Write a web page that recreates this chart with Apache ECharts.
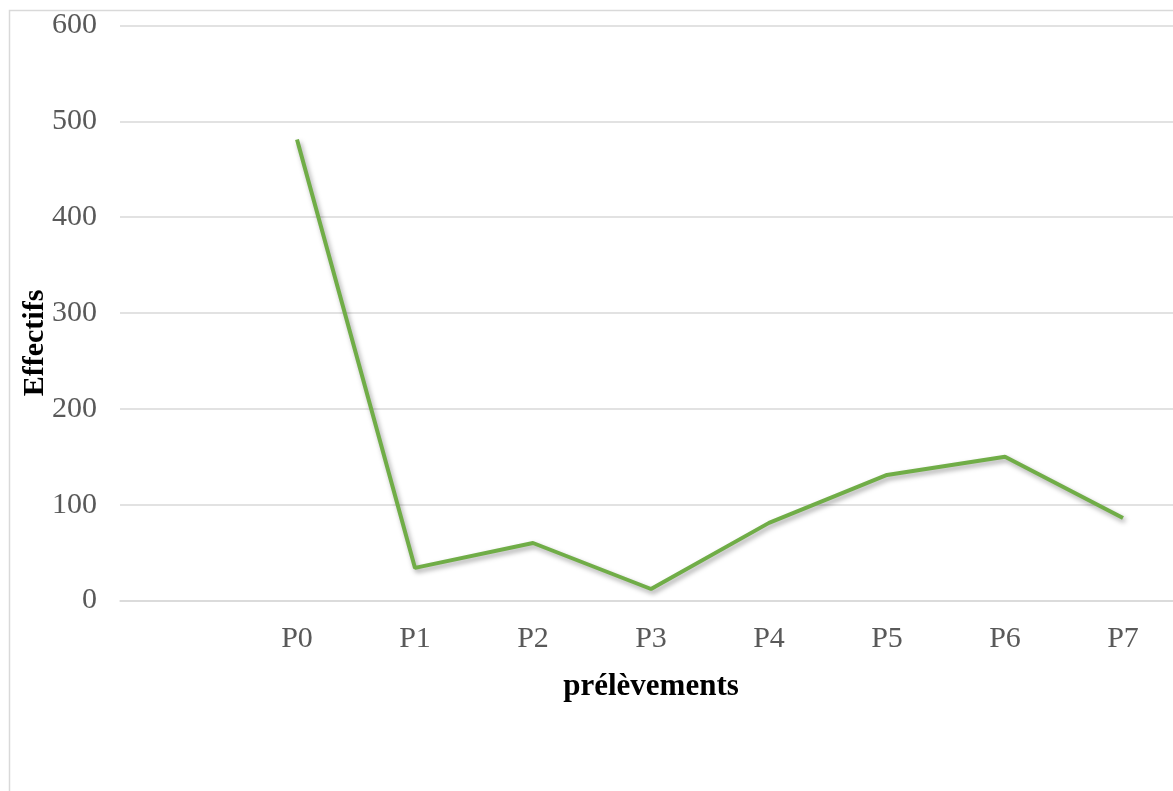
<!DOCTYPE html>
<html>
<head>
<meta charset="utf-8">
<script src="https://cdn.jsdelivr.net/npm/echarts@6/dist/echarts.min.js"></script>
<style>
html,body{margin:0;padding:0;background:#fff;overflow:hidden;}
#chart{width:1173px;height:791px;}
</style>
</head>
<body>
<div id="chart"></div>
<script>
var categories = ['', 'P0', 'P1', 'P2', 'P3', 'P4', 'P5', 'P6', 'P7'];
var effectifs = [null, 481, 34, 60, 12, 81, 131, 150, 86];
var yTicks = { min: 0, max: 600, interval: 100 };
var xName = 'prélèvements';
var yName = 'Effectifs';

var chart = echarts.init(document.getElementById('chart'));
chart.setOption({
  animation: false,
  backgroundColor: '#fff',
  graphic: [{
    type: 'rect', silent: true, z: -1,
    shape: { x: 9.5, y: 10.5, width: 1300, height: 900 },
    style: { fill: 'none', stroke: '#d9d9d9', lineWidth: 1.5 }
  }],
  grid: { left: 120, width: 1062, top: 25.5, bottom: 190.5, containLabel: false, outerBoundsMode: 'none' },
  xAxis: {
    type: 'category',
    data: categories,
    boundaryGap: true,
    name: xName,
    nameLocation: 'middle',
    nameGap: 71,
    nameMoveOverlap: false,
    nameTextStyle: { fontFamily: 'Liberation Serif', fontSize: 31, fontWeight: 'bold', color: '#000' },
    axisLine: { show: true, lineStyle: { color: '#d9d9d9', width: 1.5 } },
    axisTick: { show: false },
    axisLabel: { fontFamily: 'Liberation Serif', fontSize: 30, color: '#595959', margin: 24, interval: 0 },
    splitLine: { show: false }
  },
  yAxis: {
    type: 'value',
    min: yTicks.min, max: yTicks.max, interval: yTicks.interval,
    name: yName,
    nameLocation: 'middle',
    nameGap: 70,
    nameMoveOverlap: false,
    nameTextStyle: { fontFamily: 'Liberation Serif', fontSize: 30, fontWeight: 'bold', color: '#000', padding: [0, 60, 0, 0] },
    axisLine: { show: false },
    axisTick: { show: false },
    axisLabel: { fontFamily: 'Liberation Serif', fontSize: 30, color: '#595959', margin: 23 },
    splitLine: { show: true, lineStyle: { color: '#d9d9d9', width: 1.5 } }
  },
  series: [{
    type: 'line',
    data: effectifs,
    symbol: 'none',
    smooth: false,
    connectNulls: false,
    lineStyle: {
      color: '#70ad47', width: 4,
      shadowColor: 'rgba(0,0,0,0.35)', shadowBlur: 5, shadowOffsetX: 2, shadowOffsetY: 3
    },
    itemStyle: { color: '#70ad47' }
  }]
});
</script>
</body>
</html>
